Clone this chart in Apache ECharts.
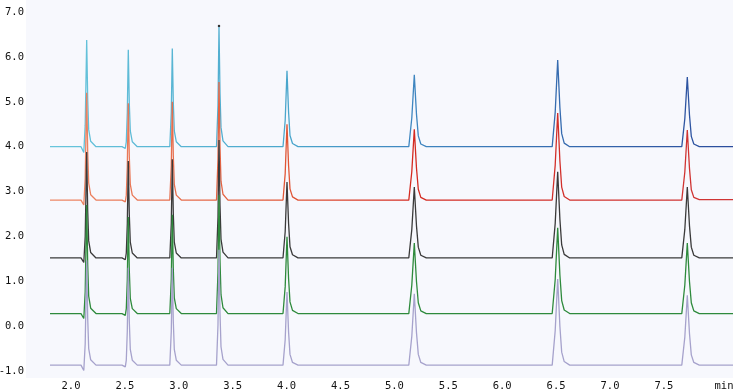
<!DOCTYPE html>
<html>
<head>
<meta charset="utf-8">
<script src="https://cdn.jsdelivr.net/npm/echarts@6/dist/echarts.min.js"></script>
<style>html,body{margin:0;padding:0;background:#fff}#c{width:737px;height:391px}</style>
</head>
<body>
<div id="c"></div>
<script>
// retention time (min), shared by all traces
const times = [1.805,
  2.0928, 2.1187, 2.1317, 2.1456, 2.1549, 2.1642, 2.1827, 2.2319,
  2.4731, 2.5037, 2.5130, 2.5223, 2.5315, 2.5408, 2.5501, 2.5686, 2.6150,
  2.9165, 2.9304, 2.9397, 2.9490, 2.9583, 2.9768, 3.0232,
  3.3497, 3.3636, 3.3729, 3.3822, 3.3915, 3.4100, 3.4564,
  3.9666, 3.9870, 4.0037, 4.0186, 4.0315, 4.0547, 4.1058,
  5.1336, 5.1614, 5.1846, 5.2050, 5.2217, 5.2449, 5.2959,
  6.4638, 6.4917, 6.5148, 6.5353, 6.5519, 6.5751, 6.6262,
  7.6660, 7.6939, 7.7171, 7.7375, 7.7542, 7.7774, 7.8284,
  8.141];

const traceBlue = [4.00,
  4.00, 3.87, 4.48, 6.38, 5.07, 4.38, 4.12, 4.00,
  4.00, 3.96, 4.11, 4.76, 6.16, 4.97, 4.35, 4.11, 4.00,
  4.00, 4.77, 6.19, 4.99, 4.35, 4.11, 4.00,
  4.00, 4.93, 6.67, 5.20, 4.43, 4.13, 4.00,
  4.00, 4.59, 5.69, 4.76, 4.25, 4.07, 4.00,
  4.00, 4.64, 5.60, 4.72, 4.24, 4.06, 4.00,
  4.00, 4.77, 5.93, 4.87, 4.29, 4.08, 4.00,
  4.00, 4.62, 5.55, 4.70, 4.23, 4.06, 4.00,
  4.00];

const traceRed = [2.81,
  2.81, 2.70, 3.29, 5.20, 3.89, 3.19, 2.93, 2.81,
  2.81, 2.77, 2.92, 3.57, 4.97, 3.78, 3.16, 2.92, 2.81,
  2.81, 3.58, 5.00, 3.80, 3.16, 2.92, 2.81,
  2.81, 3.73, 5.44, 3.99, 3.23, 2.94, 2.81,
  2.81, 3.40, 4.50, 3.57, 3.06, 2.88, 2.81,
  2.81, 3.44, 4.39, 3.52, 3.05, 2.87, 2.81,
  2.81, 3.59, 4.75, 3.68, 3.10, 2.89, 2.81,
  2.81, 3.43, 4.37, 3.51, 3.04, 2.87, 2.82,
  2.82];

const traceBlack = [1.52,
  1.52, 1.42, 1.99, 3.88, 2.58, 1.90, 1.64, 1.52,
  1.52, 1.48, 1.63, 2.28, 3.68, 2.49, 1.87, 1.63, 1.52,
  1.52, 2.29, 3.72, 2.51, 1.87, 1.63, 1.52,
  1.52, 2.44, 4.15, 2.70, 1.94, 1.65, 1.52,
  1.52, 2.11, 3.21, 2.28, 1.77, 1.59, 1.52,
  1.52, 2.15, 3.10, 2.23, 1.76, 1.58, 1.52,
  1.52, 2.29, 3.44, 2.38, 1.81, 1.60, 1.52,
  1.52, 2.15, 3.10, 2.23, 1.76, 1.58, 1.52,
  1.52];

const traceGreen = [0.28,
  0.28, 0.17, 0.76, 2.70, 1.37, 0.67, 0.40, 0.28,
  0.28, 0.24, 0.39, 1.03, 2.43, 1.25, 0.62, 0.39, 0.28,
  0.28, 1.05, 2.48, 1.27, 0.63, 0.39, 0.28,
  0.28, 1.20, 2.92, 1.47, 0.70, 0.41, 0.28,
  0.28, 0.88, 1.99, 1.05, 0.54, 0.35, 0.28,
  0.28, 0.91, 1.85, 0.99, 0.52, 0.34, 0.28,
  0.28, 1.04, 2.19, 1.14, 0.57, 0.36, 0.28,
  0.28, 0.91, 1.85, 0.99, 0.52, 0.34, 0.28,
  0.28];

const traceLavender = [-0.87,
  -0.87, -0.99, -0.40, 1.47, 0.18, -0.50, -0.75, -0.87,
  -0.87, -0.91, -0.76, -0.11, 1.30, 0.11, -0.52, -0.76, -0.87,
  -0.87, -0.11, 1.30, 0.11, -0.52, -0.76, -0.87,
  -0.87, 0.03, 1.70, 0.29, -0.46, -0.74, -0.87,
  -0.87, -0.30, 0.76, -0.14, -0.63, -0.81, -0.87,
  -0.87, -0.23, 0.72, -0.15, -0.63, -0.81, -0.87,
  -0.87, -0.10, 1.05, -0.01, -0.58, -0.79, -0.87,
  -0.87, -0.25, 0.69, -0.17, -0.64, -0.81, -0.87,
  -0.87];

const markerPoint = [[3.3729, 6.69]];

const xTicks = [2.0, 2.5, 3.0, 3.5, 4.0, 4.5, 5.0, 5.5, 6.0, 6.5, 7.0, 7.5];
const xUnitPos = 8.0575;
const yTicks = [-1, 0, 1, 2, 3, 4, 5, 6, 7];

const zip = vals => times.map((t, i) => [t, vals[i]]);
const grad = stops => new echarts.graphic.LinearGradient(0, 0, 1, 0, stops);

const chart = echarts.init(document.getElementById('c'), null, {renderer: 'canvas'});
const lab = {fontFamily: 'DejaVu Sans Mono', fontSize: 10.5, color: '#111'};
const mk = (vals, color) => ({
  type: 'line', data: zip(vals), showSymbol: false, symbol: 'none',
  lineStyle: {width: 1.3, color: color}, silent: true
});
chart.setOption({
  animation: false,
  grid: {left: 26, right: 4, top: 0, bottom: 13, show: true, backgroundColor: '#f7f8fd', borderWidth: 0,
         containLabel: false, outerBoundsMode: 'none'},
  xAxis: {
    type: 'value', min: 1.5826, max: 8.141,
    axisLine: {show: false}, axisTick: {show: false}, splitLine: {show: false},
    axisLabel: Object.assign({
      customValues: xTicks.concat([xUnitPos]), margin: 3,
      formatter: v => v > 7.9 ? 'min' : v.toFixed(1)
    }, lab)
  },
  yAxis: {
    type: 'value', min: -1.1565, max: 7.2697,
    axisLine: {show: false}, axisTick: {show: false}, splitLine: {show: false},
    axisLabel: Object.assign({customValues: yTicks, margin: 2, formatter: v => v.toFixed(1)}, lab)
  },
  series: [
    mk(traceBlue, grad([{offset: 0, color: '#68c6dc'}, {offset: 0.35, color: '#4aa6cc'}, {offset: 0.53, color: '#3f86c0'}, {offset: 1, color: '#2b4c9c'}])),
    mk(traceRed, grad([{offset: 0, color: '#ee8a68'}, {offset: 0.35, color: '#e05535'}, {offset: 0.53, color: '#d42a20'}, {offset: 1, color: '#cf3535'}])),
    mk(traceBlack, '#3a3a3a'),
    mk(traceGreen, '#2e8a3c'),
    mk(traceLavender, '#a6a2cc'),
    {type: 'scatter', data: markerPoint, symbolSize: 2.5, itemStyle: {color: '#000'}, silent: true}
  ]
});
</script>
</body>
</html>
